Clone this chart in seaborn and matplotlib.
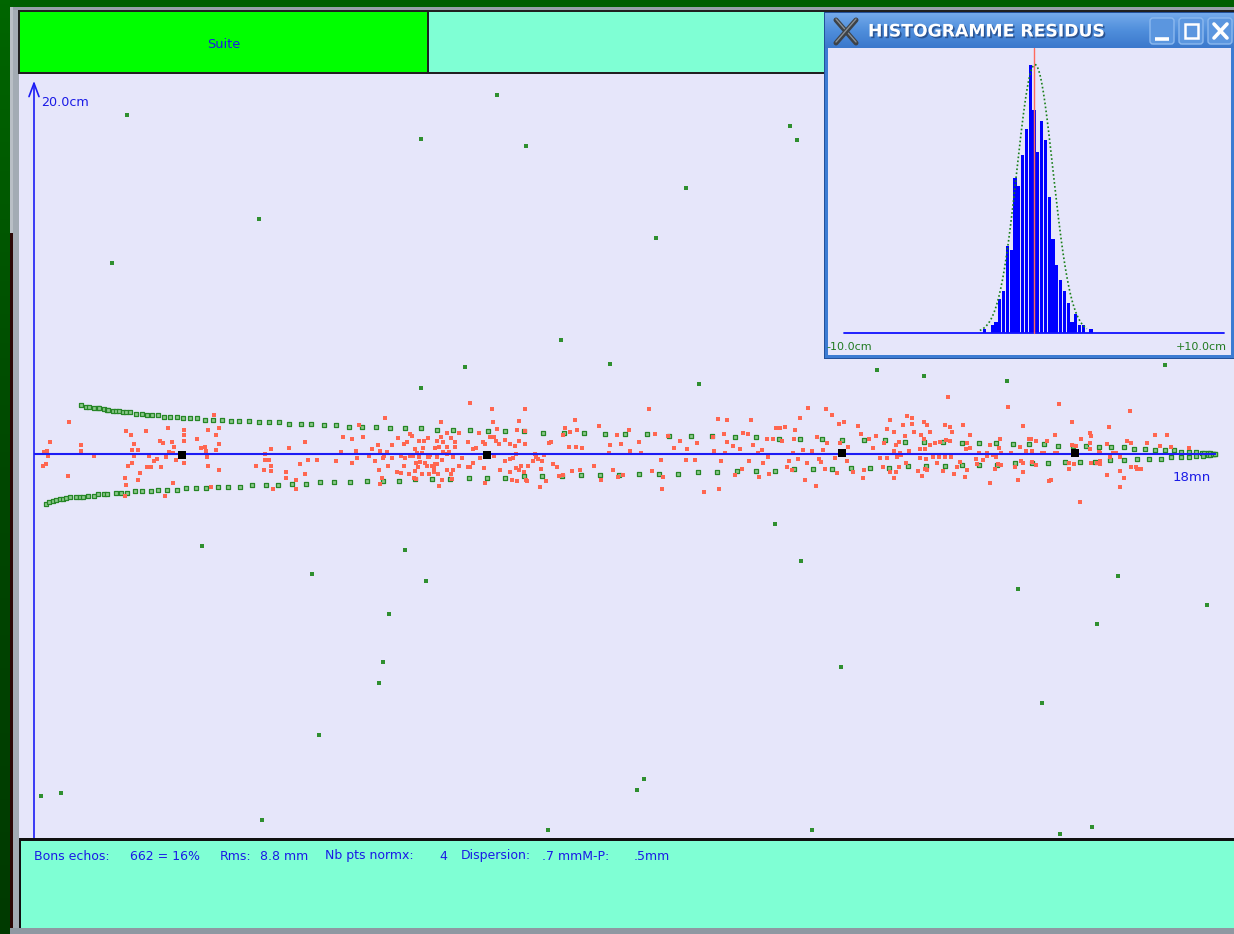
import numpy as np
import pandas as pd
import matplotlib
matplotlib.use("Agg")
import matplotlib.pyplot as plt
import matplotlib.patheffects as pe
from matplotlib.patches import Rectangle, FancyBboxPatch
from matplotlib.colors import LinearSegmentedColormap
import seaborn as sns

sns.set_style("white")
plt.rcParams["font.family"] = ["DejaVu Sans"]

# ---------------- data ----------------
good_echoes = 662
good_pct = 16
rms_mm = 8.8
nb_pts_normx = 4
dispersion_mm = 0.7
mp_mm = 0.5
duration_min = 18
y_axis_cm = 20.0

# confidence envelope (time in minutes, offset in cm)
env_up_t = [0.72, 0.79, 0.84, 0.92, 0.97, 0.99, 1.06, 1.11, 1.13, 1.20, 1.25, 1.30, 1.36, 1.41, 1.46,
            1.56, 1.65, 1.72, 1.80, 1.89, 1.98, 2.07, 2.18, 2.27, 2.38, 2.49, 2.60, 2.73, 2.87, 3.00,
            3.13, 3.27, 3.43, 3.58, 3.74, 3.89, 4.07, 4.22, 4.42, 4.60, 4.80, 5.00, 5.21, 5.43, 5.65,
            5.90, 6.14, 6.38, 6.65, 6.92, 7.18, 7.47, 7.76, 8.08, 8.39, 8.70, 9.01, 9.34, 9.68, 10.01,
            10.34, 10.68, 11.01, 11.35, 11.68, 12.01, 12.32, 12.66, 12.97, 13.28, 13.57, 13.86, 14.15,
            14.41, 14.66, 14.93, 15.17, 15.39, 15.61, 15.84, 16.04, 16.24, 16.42, 16.62, 16.77, 16.93,
            17.09, 17.24, 17.38, 17.49, 17.60, 17.71, 17.80, 17.84, 17.89, 17.93, 17.98, 18.01]
env_up_cm = [2.77, 2.69, 2.67, 2.61, 2.60, 2.60, 2.53, 2.49, 2.49, 2.45, 2.43, 2.43, 2.36, 2.36, 2.36,
             2.28, 2.26, 2.19, 2.19, 2.19, 2.11, 2.11, 2.11, 2.03, 2.03, 2.03, 1.94, 1.94, 1.94, 1.86,
             1.86, 1.86, 1.79, 1.79, 1.79, 1.71, 1.71, 1.71, 1.62, 1.62, 1.54, 1.54, 1.54, 1.45, 1.45,
             1.45, 1.36, 1.36, 1.36, 1.28, 1.28, 1.28, 1.20, 1.20, 1.20, 1.11, 1.11, 1.11, 1.03, 1.03,
             1.03, 0.94, 0.94, 0.86, 0.86, 0.86, 0.79, 0.79, 0.79, 0.69, 0.69, 0.69, 0.62,
             0.62, 0.62, 0.55, 0.55, 0.55, 0.47, 0.47, 0.47, 0.38, 0.38, 0.38, 0.30, 0.30,
             0.21, 0.21, 0.21, 0.13, 0.13, 0.13, 0.06, 0.05, 0.06, 0.03, 0.00, -0.01]
env_lo_t = [0.18, 0.23, 0.29, 0.34, 0.39, 0.44, 0.49, 0.55, 0.64, 0.70, 0.75, 0.83, 0.92, 0.98, 1.07,
            1.12, 1.25, 1.33, 1.42, 1.54, 1.65, 1.78, 1.89, 2.02, 2.18, 2.31, 2.47, 2.62, 2.81, 2.96,
            3.14, 3.33, 3.54, 3.72, 3.93, 4.14, 4.36, 4.58, 4.82, 5.07, 5.32, 5.56, 5.81, 6.07, 6.34,
            6.63, 6.90, 7.18, 7.47, 7.74, 8.05, 8.34, 8.63, 8.92, 9.23, 9.52, 9.81, 10.12, 10.41, 10.72,
            11.01, 11.30, 11.59, 11.88, 12.17, 12.45, 12.74, 13.03, 13.33, 13.59, 13.88, 14.15, 14.41,
            14.68, 14.95, 15.22, 15.46, 15.71, 15.95, 16.17, 16.40, 16.62, 16.82, 17.00, 17.18, 17.33,
            17.49, 17.60, 17.71, 17.82, 17.89, 17.93, 17.97, 18.01]
env_lo_cm = [-2.84, -2.75, -2.66, -2.60, -2.56, -2.53, -2.50, -2.47, -2.43, -2.43, -2.43, -2.37, -2.37,
             -2.28, -2.28, -2.28, -2.19, -2.19, -2.19, -2.09, -2.09, -2.09, -2.02, -2.02, -2.02, -1.94,
             -1.94, -1.94, -1.86, -1.86, -1.86, -1.77, -1.77, -1.77, -1.69, -1.69, -1.60, -1.60, -1.60,
             -1.53, -1.53, -1.53, -1.43, -1.43, -1.43, -1.36, -1.36, -1.36, -1.26, -1.26, -1.26, -1.19,
             -1.19, -1.19, -1.11, -1.11, -1.11, -1.02, -1.02, -0.94, -0.94, -0.94, -0.86, -0.86, -0.86,
             -0.77, -0.77, -0.77, -0.68, -0.68, -0.68, -0.60, -0.60, -0.60, -0.53, -0.53, -0.53, -0.45,
             -0.45, -0.45, -0.36, -0.36, -0.28, -0.28, -0.28, -0.19, -0.19, -0.19, -0.11, -0.11, -0.04,
             -0.03, -0.02, 0.00]

# retained echoes (residuals), in time order blocks
res_t_0_3 = [0.54, 0.25, 0.15, 0.20, 0.21, 0.14, 0.18, 0.52, 0.72, 0.72, 0.91, 1.41, 1.48, 1.70, 1.53,
             1.50, 1.59, 1.52, 1.49, 1.43, 1.39, 1.59, 1.62, 1.41, 1.39, 1.75, 1.72, 1.78, 1.83, 1.88,
             1.94, 1.92, 1.97, 2.05, 2.10, 2.14, 2.06, 2.12, 2.01, 2.17, 2.12, 1.99, 2.28, 2.28, 2.28,
             2.75, 2.66, 2.82, 2.77, 2.48, 2.82, 2.60, 2.55, 2.62, 2.77, 2.63, 2.66, 2.82, 2.28, 2.70]
res_cm_0_3 = [1.83, 0.66, 0.09, 0.17, -0.09, -0.66, -0.56, -1.24, 0.51, 0.17, -0.09, 1.32, 1.07, 1.32, 0.56,
              0.23, 0.23, -0.09, -0.49, -0.68, -1.39, -1.47, -1.09, -1.75, -2.41, -0.09, -0.75, -0.75, -0.40, -0.26,
              -0.75, 0.73, 0.60, 1.49, 0.66, 0.41, 0.09, 0.04, -0.15, -0.34, -1.66, -2.41, 1.39, 1.07, 0.73,
              2.20, 1.39, 1.49, 1.07, 0.83, 0.56, 0.41, 0.32, 0.17, 0.23, -0.15, -0.68, -0.90, -0.49, -1.90]

res_t_3_7 = [6.64, 6.98, 7.48, 5.35, 6.21, 7.00, 7.40, 4.95, 7.06, 7.37, 7.48, 4.71, 4.84, 5.02, 5.55,
             5.73, 5.76, 6.00, 5.95, 6.20, 6.29, 6.35, 6.48, 6.79, 6.95, 7.01, 4.13, 5.24, 5.46, 5.64,
             5.68, 5.87, 6.15, 6.24, 6.42, 6.62, 6.85, 6.88, 7.04, 7.09, 7.18, 7.26, 7.33, 7.40, 7.49,
             3.61, 3.88, 4.91, 5.15, 5.28, 5.38, 5.81, 5.93, 6.11, 6.18, 6.29, 6.32, 6.42, 6.69, 6.74,
             3.52, 4.68, 5.11, 5.34, 5.59, 5.73, 5.77, 5.84, 5.87, 5.92, 6.00, 6.04, 6.15, 6.24, 6.29,
             6.38, 6.53, 6.80, 7.01, 7.18, 7.26, 7.30, 7.35, 3.52, 3.58, 4.17, 4.32, 4.61, 4.93, 5.20,
             5.32, 5.45, 5.66, 5.82, 5.89, 5.96, 6.02, 6.14, 6.22, 3.39, 3.61, 4.05, 4.84, 5.40, 5.64,
             5.86, 5.99, 6.07, 6.12, 6.09, 6.48, 6.61, 6.65, 6.69, 6.86, 7.10, 7.25, 7.35, 7.42, 7.53,
             3.50, 3.61, 3.84, 4.13, 5.26, 5.53, 5.59, 5.71, 5.81, 5.91, 6.02, 6.10, 6.16, 6.29, 6.35,
             6.39, 7.39, 7.47, 7.50, 7.51, 3.84, 4.00, 5.30, 5.79, 5.83, 6.22, 6.37, 6.17, 5.28, 6.88,
             7.29, 7.36, 3.64, 4.00]
res_cm_3_7 = [2.92, 2.54, 2.54, 2.05, 1.83, 1.83, 1.90, 1.64, 1.41, 1.34, 1.30, 0.98, 0.83, 0.98, 0.89,
              1.11, 1.04, 0.92, 0.73, 0.98, 1.22, 0.92, 1.17, 1.17, 0.98, 0.98, 0.66, 0.51, 0.51, 0.55,
              0.66, 0.73, 0.73, 0.70, 0.66, 0.66, 0.70, 0.55, 0.73, 0.55, 0.79, 0.55, 0.47, 0.73, 0.58,
              0.26, 0.34, 0.17, 0.26, 0.17, 0.09, 0.26, 0.32, 0.32, 0.40, 0.41, 0.13, 0.40, 0.26, 0.36,
              0.00, 0.09, -0.09, -0.13, -0.09, -0.09, -0.09, 0.04, -0.17, 0.06, -0.17, -0.06, -0.17, 0.09, -0.02,
              -0.17, -0.24, -0.24, -0.09, -0.40, -0.28, -0.24, 0.00, -0.34, -0.34, -0.32, -0.32, -0.40, -0.24, -0.40,
              -0.24, -0.21, -0.24, -0.49, -0.43, -0.49, -0.17, -0.56, -0.36, -0.66, -0.66, -0.56, -0.49, -0.66, -0.66,
              -0.73, -0.66, -0.66, -0.58, -0.81, -0.66, -0.72, -0.73, -0.51, -0.81, -0.92, -1.04, -0.81, -0.70, -0.66,
              -0.89, -0.98, -1.05, -1.15, -0.90, -1.00, -1.07, -1.15, -0.96, -1.11, -1.11, -1.00, -1.15, -0.90, -1.15,
              -0.90, -0.92, -1.04, -1.45, -1.53, -1.39, -1.47, -1.37, -1.34, -1.41, -1.49, -1.41, -1.79, -1.71, -1.64,
              -1.49, -1.56, -1.98, -1.98]

res_t_7_13 = [7.60, 7.64, 7.66, 7.69, 7.71, 7.73, 7.75, 7.78, 7.81, 7.85, 7.88, 7.91, 7.97,
              8.00, 8.06, 8.07, 8.10, 8.16, 8.17, 8.20, 8.24, 8.26, 8.28, 8.33, 8.35, 8.54, 8.62, 8.64,
              8.76, 8.78, 8.82, 8.88, 8.91, 8.95, 8.98, 9.07, 9.08, 9.22, 9.25, 9.37, 9.42, 9.47, 9.56,
              9.57, 9.59, 9.67, 9.76, 9.85, 9.94, 9.96, 10.08, 10.11, 10.22, 10.35, 10.37, 10.42, 10.44,
              10.47, 10.52, 10.53, 10.56, 10.57, 10.66, 10.69, 10.76, 10.79, 10.81, 10.89, 10.90, 10.93,
              10.96, 11.03, 11.05, 11.09, 11.12, 11.17, 11.19, 11.21, 11.26, 11.31, 11.37, 11.41, 11.45,
              11.48, 11.51, 11.55, 11.57, 11.59, 11.60, 11.64, 11.68, 11.73, 11.75, 11.79, 11.80, 11.86,
              11.92, 11.94, 11.96, 12.00, 12.03, 12.06, 12.07, 12.09, 12.17, 12.21, 12.24, 12.27, 12.28,
              12.34, 12.39, 12.41, 12.49, 12.56, 12.61, 12.64, 12.66, 12.73, 12.79, 12.83]
res_cm_7_13 = [-0.38, 0.00, -0.15, -0.26, -1.88, -0.87, -0.38, -0.06, -1.56, 0.64, 0.68, -0.56, -0.75,
               -1.24, -1.19, 1.07, 1.45, 0.41, 1.26, -0.94, 1.96, 0.41, 1.36, -0.90, 0.32, -0.68, 1.58, -1.47,
               0.08, 0.49, -0.90, 1.09, -1.28, 0.56, -1.19, 1.36, 0.19, 0.68, 0.08, 2.56, -0.98, 1.13, -0.34,
               -2.00, -1.28, 1.02, 0.32, 0.73, -0.34, 0.26, -0.34, 0.60, -2.15, 0.94, 0.15, 2.00, -2.00,
               -0.38, 1.13, 0.08, 1.96, 0.70, 0.45, -1.19, 0.26, -0.87, 1.17, 1.13, -0.38, 1.92,
               0.51, 0.08, -1.28, 0.23, -0.49, 0.83, -0.19, -1.13, 0.83, 1.45, 1.49, 0.75, 1.51,
               -0.75, -0.38, -0.90, 0.08, 0.83, 1.39, -0.26, 2.07, 0.23, -1.47, -0.53, 2.64, 0.19,
               -1.81, 0.94, -0.30, -0.45, 0.23, -0.87, 2.56, 0.64, 2.22, -0.24, -1.09, 1.73, 0.64,
               1.81, -0.38, 0.41, -1.05, 1.58, 1.13, -1.39, -0.90, 0.83, 0.32, 1.02]

res_t_13_15 = [13.94, 14.85, 13.05, 13.31, 13.38, 13.38, 13.56, 13.61, 13.01, 13.11, 13.24, 13.42, 13.66,
               13.89, 13.96, 14.00, 14.16, 14.27, 13.52, 13.56, 13.27, 13.18, 12.96, 13.14, 13.11, 13.20,
               13.34, 13.15, 13.21, 13.01, 12.90, 13.51, 13.58, 13.66, 13.74, 13.81, 13.91, 13.97, 14.22,
               14.27, 14.21, 14.57, 14.73, 14.71, 14.40, 14.52, 14.62, 14.74, 14.89, 12.94, 13.05, 13.14,
               13.11, 13.18, 13.30, 13.47, 13.53, 13.58, 13.62, 13.51, 13.59, 13.70, 13.80, 13.89, 13.98,
               13.77, 13.85, 14.02, 14.07, 14.19, 14.23, 14.12, 14.36, 14.47, 14.53, 14.67, 14.65, 14.70,
               14.74, 14.96, 14.58, 15.00, 14.37]
res_cm_13_15 = [3.24, 2.67, 1.92, 2.17, 2.07, 1.73, 1.83, 1.66, 1.41, 1.24, 1.66, 1.24, 1.24,
                1.66, 1.54, 1.24, 1.66, 1.09, 1.09, 0.83, 1.02, 0.70, 0.64, 0.51, 0.17, 0.04,
                0.17, -0.15, -0.08, -0.24, -0.24, 0.26, 0.26, 0.51, 0.60, 0.70, 0.79, 0.75, 0.60,
                0.32, 0.26, 0.51, 0.83, 0.34, 0.04, 0.04, -0.08, 0.08, 0.04, -0.72, -1.05, -1.05,
                -1.37, -0.72, -0.49, -0.96, -1.24, -0.87, -0.90, -0.24, -0.30, -0.15, -0.19, -0.15, -0.15,
                -0.53, -0.98, -1.15, -0.72, -1.32, -0.90, -0.43, -0.30, -0.34, -0.11, -0.15, -0.87, -0.56,
                -0.62, -0.75, -1.62, -1.47, -0.56]

res_t_15_18 = [15.07, 15.82, 16.38, 17.09, 17.27, 15.56, 15.17, 15.20, 15.27, 15.44, 15.96, 16.10, 16.12,
               16.66, 16.72, 17.33, 17.61, 16.96, 17.17, 15.03, 15.12, 15.21, 15.36, 15.39, 15.57, 15.60,
               15.83, 15.88, 16.09, 16.09, 16.23, 16.25, 16.36, 16.45, 16.50, 16.56, 16.21, 15.27, 15.22,
               15.04, 15.07, 15.77, 15.78, 15.85, 16.11, 16.25, 16.25, 16.40, 16.36, 16.56, 16.61, 16.72,
               16.80, 16.81, 16.88, 15.48, 15.51, 15.07, 16.56, 15.95, 15.63, 16.71]
res_cm_15_18 = [1.58, 1.83, 1.51, 1.09, 1.09, 1.09, 0.85, 0.85, 0.75, 0.75, 0.85, 1.21, 1.02,
                0.75, 0.60, 0.38, 0.34, 0.60, 0.45, 0.38, 0.19, 0.19, 0.04, 0.04, 0.04, 0.04,
                0.53, 0.47, 0.60, 0.26, 0.13, 0.04, 0.56, 0.04, 0.04, -0.15, -0.49, -0.64, -0.43,
                -0.38, -0.53, -0.49, -0.87, -0.58, -0.49, -0.38, -0.56, -0.19, -1.21, -0.98, -1.39, -0.72,
                -0.72, -0.87, -0.83, -1.51, -1.47, -1.00, -1.88, -2.71, 2.82, 2.43]

# rejected echoes
out_t = [1.42, 7.06, 5.90, 7.50, 11.52, 11.63, 3.43, 9.94, 1.19, 9.48, 8.03, 8.78, 6.57, 5.90, 10.14,
         12.85, 13.57, 14.83, 17.24, 2.56, 5.66, 4.24, 5.98, 5.41, 11.30, 11.69, 15.00, 16.52, 16.20,
         17.88, 5.32, 5.26, 12.30, 15.37, 4.34, 9.30, 9.19, 0.11, 0.41, 3.48, 7.84, 11.86, 15.64, 16.13]
out_cm = [19.27, 20.40, 17.91, 17.51, 18.64, 17.85, 13.33, 15.14, 10.85, 12.26, 6.50, 5.14, 4.97, 3.73,
          3.95, 4.75, 4.46, 4.12, 5.08, -5.25, -5.48, -6.84, -7.23, -9.10, -3.95, -6.10, -7.68, -6.95,
          -9.66, -8.59, -11.81, -12.99, -12.09, -14.12, -15.99, -18.47, -19.10, -19.44, -19.27, -20.79,
          -21.36, -21.36, -21.58, -21.19]

# normalisation points
norm_t = [2.26, 6.91, 12.32, 15.87]
norm_cm = [-0.08, -0.04, 0.04, 0.06]

# residual histogram (bins of 0.2 cm starting at -2.7 cm)
hist_start_cm = -2.7
hist_bin_cm = 0.2
hist_counts = [1, 0, 2, 3, 9, 11, 23, 22, 41, 39, 47, 54, 71, 59, 48, 56, 51, 36, 25, 18, 14, 11, 8, 3,
               5, 2, 2, 0, 1]
curve_center = 0.05
curve_sigma = 0.95
curve_peak = 71
hist_range_cm = 10.0

res_t = res_t_0_3 + res_t_3_7 + res_t_7_13 + res_t_13_15 + res_t_15_18
res_cm = res_cm_0_3 + res_cm_3_7 + res_cm_7_13 + res_cm_13_15 + res_cm_15_18

# ---------------- layout helpers ----------------
W, H = 1234, 934
fig = plt.figure(figsize=(W / 100, H / 100), dpi=100, facecolor="#a3abb4")


def fbox(x0, y0, x1, y1):
    return [x0 / W, 1 - y1 / H, (x1 - x0) / W, (y1 - y0) / H]


def frect(x0, y0, x1, y1, color, z=-1):
    fig.add_artist(Rectangle((x0 / W, 1 - y1 / H), (x1 - x0) / W, (y1 - y0) / H,
                             transform=fig.transFigure, facecolor=color,
                             edgecolor="none", zorder=z))


def bare(ax):
    ax.set_xticks([])
    ax.set_yticks([])
    for s in ax.spines.values():
        s.set_visible(False)


BLUE = "#1c1cf5"
TXT_BLUE = "#1a1ae6"
LAV = "#e6e6fa"
AQUA = "#7fffd4"

# window frame around the application
frect(0, 0, W, 7, "#005e00")
frect(0, 7, W, 10, "#98a0a9")
frect(10, 7, 13, 233, "#b9bfc6")
frect(10, 233, 13, H, "#2c0606")
frect(0, 928, W, H, "#8f98a2")
strip = fig.add_axes(fbox(0, 0, 10, H))
strip.imshow(np.linspace(0, 1, 256)[:, None], aspect="auto",
             cmap=LinearSegmentedColormap.from_list("g", ["#006600", "#004800", "#003a00"]))
bare(strip)

# ---------------- top button bar ----------------
top = fig.add_axes(fbox(18, 10, W, 74), zorder=1)
top.set_xlim(18, W)
top.set_ylim(74, 10)
bare(top)
top.add_patch(Rectangle((18, 10), W - 18, 64, facecolor="#202020", edgecolor="none"))
top.add_patch(Rectangle((20, 12), 407, 60, facecolor="#00ff00", edgecolor="none"))
top.add_patch(Rectangle((429, 12), W - 429, 60, facecolor=AQUA, edgecolor="none"))
top.text(224, 44, "Suite", color=TXT_BLUE, fontsize=9.3, ha="center", va="center")

# ---------------- main residual plot ----------------
ax = fig.add_axes(fbox(19, 74, W, 838), zorder=1)
ax.set_facecolor(LAV)
bare(ax)
px_min, px_cm, x0_px, y0_px = 65.6, 17.6, 34, 454
ax.set_xlim((19 - x0_px) / px_min, (W - x0_px) / px_min)
ax.set_ylim((y0_px - 838) / px_cm, (y0_px - 74) / px_cm)

sns.scatterplot(x=out_t, y=out_cm, ax=ax, marker="s", s=5.5, color="#2f8f2f", linewidth=0, zorder=2)
sns.scatterplot(x=env_up_t + env_lo_t, y=env_up_cm + env_lo_cm, ax=ax, marker="s", s=11,
                color="#8cc98c", edgecolor="#268626", linewidth=0.9, zorder=2)
sns.scatterplot(x=res_t, y=res_cm, ax=ax, marker="s", s=5, color="#ff6650", linewidth=0, zorder=3)
ax.plot([0, duration_min + 0.02], [0, 0], color=BLUE, lw=1.5, zorder=4, solid_capstyle="butt")
ax.annotate("", xy=(0, 21.2), xytext=(0, ax.get_ylim()[0]),
            arrowprops=dict(arrowstyle="->,head_length=0.8,head_width=0.3", color=BLUE, lw=1.2,
                            shrinkA=0, shrinkB=0, mutation_scale=12), zorder=4)
sns.scatterplot(x=norm_t, y=norm_cm, ax=ax, marker="s", s=26, color="black", linewidth=0, zorder=5)
ax.text(0.11, y_axis_cm, f"{y_axis_cm:.1f}cm", color=TXT_BLUE, fontsize=9.2, ha="left", va="center")
ax.text(17.94, -1.36, f"{duration_min}mn", color=TXT_BLUE, fontsize=9.5, ha="right", va="center")
ax.set_xlabel("")
ax.set_ylabel("")

# ---------------- status bar ----------------
bot = fig.add_axes(fbox(19, 838, W, 928), zorder=1)
bot.set_xlim(19, W)
bot.set_ylim(928, 838)
bare(bot)
bot.add_patch(Rectangle((19, 838), W - 19, 90, facecolor="#101010", edgecolor="none"))
bot.add_patch(Rectangle((21, 841), W - 21, 87, facecolor=AQUA, edgecolor="none"))
status = [("Bons echos:", 34), (f"{good_echoes} = {good_pct}%", 130), ("Rms:", 220),
          (f"{rms_mm} mm", 260), ("Nb pts normx:", 325), (f"{nb_pts_normx}", 439),
          ("Dispersion:", 461), (f"{dispersion_mm:.1f}".lstrip("0") + " mmM-P:", 542),
          (f"{mp_mm:.1f}".lstrip("0") + "mm", 634)]
for txt, xp in status:
    bot.text(xp, 856, txt, color=TXT_BLUE, fontsize=9.0, ha="left", va="center")

# ---------------- histogram window ----------------
frect(824, 12, W, 359, "#24519a", z=5)
frect(825, 13, W, 358, "#3c7cd3", z=5)

bar = fig.add_axes(fbox(825, 13, W, 48), zorder=6)
bar.imshow(np.linspace(0, 1, 64)[:, None], aspect="auto", extent=(825, W, 48, 13),
           cmap=LinearSegmentedColormap.from_list("t", ["#74aaec", "#4f8edb", "#3b78cc"]))
bar.set_xlim(825, W)
bar.set_ylim(48, 13)
bare(bar)
for (a, b) in [((836, 20), (856, 43)), ((836, 43), (856, 20))]:
    bar.plot([a[0], b[0]], [a[1], b[1]], color="#3d4247", lw=3.6, solid_capstyle="round")
    bar.plot([a[0], b[0]], [a[1] - 1, b[1] - 1], color="#8a9096", lw=1.0, solid_capstyle="round")
bar.text(868, 31.5, "HISTOGRAMME RESIDUS", color="white", fontsize=12.4, fontweight="bold",
         ha="left", va="center",
         path_effects=[pe.withSimplePatchShadow(offset=(1.2, -1.2), shadow_rgbFace="#1d3f78", alpha=0.7)])
for bx in (1150, 1179, 1208):
    bar.add_patch(FancyBboxPatch((bx, 18), 24, 26, boxstyle="round,pad=0,rounding_size=3",
                                 facecolor="#5b96df", edgecolor="#8cb9ef", lw=1))
bar.plot([1155, 1169], [38.5, 38.5], color="white", lw=2.6, solid_capstyle="butt")
bar.add_patch(Rectangle((1185, 24), 13, 14, facecolor="none", edgecolor="white", lw=1.8))
bar.plot([1214, 1227], [24, 38], color="white", lw=2.6)
bar.plot([1214, 1227], [38, 24], color="white", lw=2.6)

axh = fig.add_axes(fbox(828, 48, 1231, 355), zorder=6)
axh.set_facecolor(LAV)
edges = [hist_start_cm + hist_bin_cm * i for i in range(len(hist_counts) + 1)]
hist_df = pd.DataFrame({"cm": [e + hist_bin_cm / 2 for e in edges[:-1]], "n": hist_counts})
sns.histplot(data=hist_df, x="cm", weights="n", bins=edges, ax=axh, color="#0000ff", alpha=1,
             linewidth=0, shrink=0.82, zorder=2)
px_hcm, px_cnt, hx0, hy0 = 19.0, 3.78, 1034, 333
axh.set_xlim((828 - hx0) / px_hcm, (1231 - hx0) / px_hcm)
axh.set_ylim((hy0 - 355) / px_cnt, (hy0 - 48) / px_cnt)
bare(axh)
axh.set_xlabel("")
axh.set_ylabel("")
axh.plot([-hist_range_cm, hist_range_cm], [0, 0], color="#1212ff", lw=1.3, zorder=3)
axh.plot([0, 0], [0, axh.get_ylim()[1]], color="#ff6a5c", lw=1.0, zorder=4)
xs = np.linspace(-2.85, 2.78, 200)
axh.plot(xs, curve_peak * np.exp(-0.5 * ((xs - curve_center) / curve_sigma) ** 2),
         color="#1a801a", lw=1.2, linestyle=(0, (1, 1.4)), zorder=5)
axh.text(-0.005, 0.026, f"-{hist_range_cm:.1f}cm", transform=axh.transAxes, color="#207a20",
         fontsize=8, ha="left", va="center")
axh.text(0.99, 0.026, f"+{hist_range_cm:.1f}cm", transform=axh.transAxes, color="#207a20",
         fontsize=8, ha="right", va="center")

fig.savefig("out.png", dpi=100, facecolor=fig.get_facecolor())
